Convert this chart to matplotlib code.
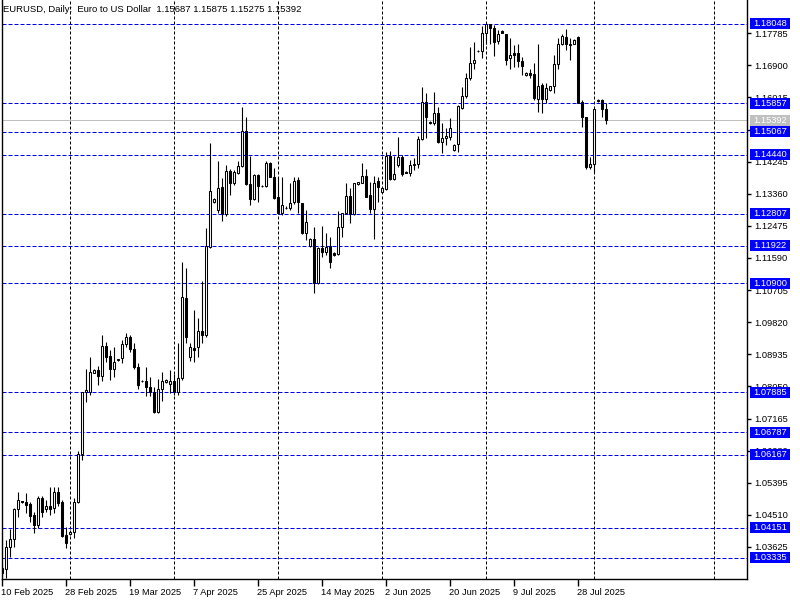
import numpy as np
import pandas as pd
import matplotlib
matplotlib.use("Agg")
import matplotlib.pyplot as plt
from matplotlib.patches import Rectangle
import matplotlib.transforms as mtrans

# ---------------- data ----------------
title_text = "EURUSD, Daily:  Euro to US Dollar  1.15687 1.15875 1.15275 1.15392"
first_date = "2025-02-10"
last_date = "2025-08-05"

opens = [
    1.03046, 1.03018, 1.03624, 1.03845, 1.04672, 1.04880, 1.04872, 1.04809,
    1.04506, 1.04230, 1.04966, 1.04663, 1.04754, 1.04691, 1.05131, 1.04872,
    1.03955, 1.03983, 1.04029, 1.04856, 1.06178, 1.07894, 1.07894, 1.08426,
    1.08501, 1.08344, 1.09162, 1.08886, 1.08520, 1.08776, 1.08823, 1.09209,
    1.09401, 1.09079, 1.08575, 1.08198, 1.08206, 1.08024, 1.07886, 1.07352,
    1.07969, 1.08162, 1.08115, 1.08206, 1.07903, 1.08272, 1.10484, 1.08867,
    1.09107, 1.09143, 1.09583, 1.09465, 1.11897, 1.13121, 1.12909, 1.13534,
    1.12790, 1.13983, 1.13644, 1.13936, 1.14121, 1.15085, 1.13625, 1.13203,
    1.13873, 1.13570, 1.13570, 1.14212, 1.13826, 1.13258, 1.12834, 1.12964,
    1.12972, 1.13137, 1.13735, 1.13093, 1.12267, 1.11925, 1.12101, 1.10889,
    1.11853, 1.11760, 1.11917, 1.11732, 1.11688, 1.12432, 1.12818, 1.13294,
    1.12790, 1.13617, 1.13661, 1.13846, 1.13322, 1.12928, 1.13716, 1.13413,
    1.13479, 1.14396, 1.13755, 1.14148, 1.14377, 1.13956, 1.13928, 1.14148,
    1.14176, 1.14856, 1.15876, 1.15333, 1.15297, 1.15589, 1.14782, 1.14892,
    1.14928, 1.14562, 1.14719, 1.15727, 1.16049, 1.16537, 1.16950, 1.17289,
    1.17297, 1.17777, 1.18033, 1.17942, 1.17573, 1.17848, 1.17757, 1.17088,
    1.17226, 1.17226, 1.17022, 1.16628, 1.16691, 1.16655, 1.15958, 1.16352,
    1.15958, 1.16215, 1.16325, 1.16931, 1.17474, 1.17683, 1.17474, 1.17501,
    1.17683, 1.15892, 1.15479, 1.14085, 1.14176, 1.15925, 1.15939, 1.15687,
]
highs = [
    1.03128, 1.03817, 1.04120, 1.04699, 1.05131, 1.04905, 1.05112, 1.04872,
    1.04597, 1.05038, 1.05038, 1.04919, 1.05285, 1.05285, 1.05285, 1.04919,
    1.04183, 1.04092, 1.04966, 1.06270, 1.07903, 1.08528, 1.08859, 1.08520,
    1.08611, 1.09465, 1.09280, 1.09052, 1.09126, 1.08817, 1.09327, 1.09528,
    1.09465, 1.09236, 1.08685, 1.08225, 1.08591, 1.08316, 1.08024, 1.08245,
    1.08437, 1.08253, 1.08501, 1.08382, 1.09245, 1.11484, 1.11302, 1.09236,
    1.10153, 1.09925, 1.10953, 1.12421, 1.14746, 1.13239, 1.14258, 1.13782,
    1.14148, 1.14038, 1.14011, 1.14258, 1.15754, 1.15479, 1.14396, 1.13901,
    1.13901, 1.13597, 1.14258, 1.14239, 1.14057, 1.13810, 1.13810, 1.13019,
    1.13644, 1.13810, 1.13810, 1.13101, 1.12909, 1.12129, 1.12448, 1.11897,
    1.12468, 1.12283, 1.12173, 1.11752, 1.12881, 1.12834, 1.13644, 1.13506,
    1.13644, 1.13680, 1.14195, 1.14030, 1.13688, 1.13846, 1.13810, 1.13514,
    1.14506, 1.14542, 1.14396, 1.14920, 1.14424, 1.13983, 1.14286, 1.14341,
    1.14947, 1.16289, 1.16140, 1.15360, 1.16168, 1.15754, 1.15306, 1.15168,
    1.15435, 1.14727, 1.15801, 1.16305, 1.16675, 1.17407, 1.17545, 1.17317,
    1.17990, 1.18048, 1.18030, 1.18010, 1.17868, 1.17868, 1.17757, 1.17639,
    1.17454, 1.17501, 1.17132, 1.16710, 1.16812, 1.16950, 1.17501, 1.16416,
    1.16407, 1.16325, 1.17179, 1.17639, 1.17757, 1.17887, 1.17639, 1.17620,
    1.17702, 1.15939, 1.15479, 1.14377, 1.15691, 1.15967, 1.15958, 1.15875,
]
lows = [
    1.02826, 1.02771, 1.03348, 1.03624, 1.04460, 1.04837, 1.04561, 1.04321,
    1.04002, 1.04139, 1.04460, 1.04597, 1.04506, 1.04553, 1.04763, 1.03900,
    1.03588, 1.03955, 1.03864, 1.04837, 1.06021, 1.07628, 1.07812, 1.08410,
    1.08088, 1.08206, 1.08729, 1.08225, 1.08316, 1.08762, 1.08685, 1.09143,
    1.09005, 1.08520, 1.07969, 1.08170, 1.07793, 1.07793, 1.07325, 1.07325,
    1.07647, 1.08143, 1.07859, 1.07812, 1.07812, 1.08225, 1.09236, 1.08757,
    1.08721, 1.08867, 1.09245, 1.09410, 1.11853, 1.13093, 1.12818, 1.12614,
    1.12743, 1.13322, 1.13597, 1.13901, 1.14101, 1.13597, 1.13046, 1.13184,
    1.13137, 1.13542, 1.13550, 1.13810, 1.13203, 1.12798, 1.12771, 1.12928,
    1.12909, 1.13074, 1.12834, 1.12247, 1.12082, 1.11897, 1.10630, 1.10862,
    1.11622, 1.11669, 1.11302, 1.11656, 1.11669, 1.12173, 1.12798, 1.12542,
    1.12771, 1.13597, 1.13644, 1.13258, 1.12834, 1.12101, 1.13137, 1.13391,
    1.13459, 1.13735, 1.13735, 1.14101, 1.13846, 1.13928, 1.13846, 1.14011,
    1.14066, 1.14837, 1.14884, 1.15278, 1.15250, 1.14746, 1.14479, 1.14699,
    1.14837, 1.14534, 1.14515, 1.15683, 1.15986, 1.16509, 1.16812, 1.17261,
    1.17088, 1.17501, 1.17501, 1.17151, 1.17501, 1.17777, 1.16903, 1.16812,
    1.16856, 1.16856, 1.16628, 1.16614, 1.16537, 1.15939, 1.15617, 1.15573,
    1.15856, 1.16187, 1.16140, 1.16812, 1.17454, 1.17317, 1.17041, 1.17496,
    1.15856, 1.15187, 1.14030, 1.14030, 1.13920, 1.15884, 1.15479, 1.15275,
]
closes = [
    1.02908, 1.03624, 1.03845, 1.04672, 1.04919, 1.04872, 1.04782, 1.04487,
    1.04230, 1.04966, 1.04597, 1.04754, 1.04663, 1.05131, 1.04845, 1.03936,
    1.03726, 1.04038, 1.04856, 1.06178, 1.07886, 1.07950, 1.08454, 1.08501,
    1.08344, 1.09162, 1.08867, 1.08520, 1.08713, 1.08795, 1.09209, 1.09401,
    1.09079, 1.08575, 1.08088, 1.08206, 1.08024, 1.07886, 1.07352, 1.07969,
    1.08198, 1.08225, 1.08206, 1.07903, 1.08272, 1.10520, 1.09418, 1.09143,
    1.09052, 1.09583, 1.09465, 1.11917, 1.13432, 1.13203, 1.13506, 1.12790,
    1.13983, 1.13644, 1.13964, 1.14121, 1.15085, 1.13617, 1.13203, 1.13873,
    1.13570, 1.13578, 1.14212, 1.13826, 1.13247, 1.12834, 1.13038, 1.12972,
    1.13093, 1.13708, 1.13137, 1.12267, 1.12570, 1.12101, 1.10889, 1.11853,
    1.11760, 1.11897, 1.11484, 1.11669, 1.12432, 1.12818, 1.13294, 1.12790,
    1.13644, 1.13672, 1.13846, 1.13275, 1.12928, 1.13661, 1.13550, 1.13506,
    1.14396, 1.13755, 1.13901, 1.14377, 1.13901, 1.13936, 1.14148, 1.14176,
    1.14856, 1.15876, 1.15479, 1.15297, 1.15589, 1.14790, 1.14892, 1.14947,
    1.15159, 1.14708, 1.15774, 1.16049, 1.16537, 1.16967, 1.17060, 1.17297,
    1.17777, 1.18033, 1.17942, 1.17545, 1.17757, 1.17777, 1.17060, 1.17179,
    1.17179, 1.17022, 1.16876, 1.16691, 1.16628, 1.15986, 1.16325, 1.15958,
    1.16270, 1.16325, 1.16931, 1.17474, 1.17702, 1.17474, 1.17460, 1.17611,
    1.15865, 1.15462, 1.14085, 1.14176, 1.15691, 1.15939, 1.15683, 1.15392,
]

line_levels = [1.18048, 1.15857, 1.15067, 1.14440, 1.12807, 1.11922, 1.10900,
               1.07885, 1.06787, 1.06167, 1.04151, 1.03335]
bid_price = 1.15392
price_ticks = [1.03625, 1.04510, 1.05395, 1.06280, 1.07165, 1.08050, 1.08935,
               1.09820, 1.10705, 1.11590, 1.12475, 1.13360, 1.14245, 1.15130,
               1.16015, 1.16900, 1.17785]
date_label_every = 16
y_range = (1.02743, 1.18700)

# ---------------- derived ----------------
o = np.array(opens); h = np.array(highs); l = np.array(lows); c = np.array(closes)
dates = [d for d in pd.date_range(first_date, last_date) if d.weekday() != 5]
n = len(o)
x = np.arange(n)

grid_x = []
prev_m = None
for i, d in enumerate(dates):
    if prev_m is not None and d.month != prev_m:
        grid_x.append(i)
    prev_m = d.month
future_month = pd.Timestamp("2025-09-01")
grid_x.append(n - 1 + (future_month - dates[-1]).days)

W, H = 800, 600
fig = plt.figure(figsize=(W / 100, H / 100), dpi=100)
ax_left, ax_right, ax_top, ax_bottom = 2, 747, 0, 579
ax = fig.add_axes([ax_left / W, 1 - ax_bottom / H,
                   (ax_right - ax_left) / W, (ax_bottom - ax_top) / H])

bar_px = 4.0
x0 = 2.3
ax.set_xlim((ax_left - x0) / bar_px, (ax_right - x0) / bar_px)
ax.set_ylim(*y_range)

font = "Liberation Sans"
fs = 6.7
onepx = 0.72  # 1 pixel in points at 100 dpi

# grid & lines
for gx in grid_x:
    ax.axvline(gx, color="black", lw=onepx, ls=(0, (3, 2)), zorder=1, snap=True)
for lv in line_levels:
    ax.axhline(lv, color="#0000FF", lw=onepx, ls=(0, (4, 2)), zorder=1.5, snap=True)
ax.axhline(bid_price, color="#C0C0C0", lw=onepx, zorder=1.2, snap=True)

# candles
up = c >= o
ax.vlines(x, l, h, color="black", lw=onepx * 1.1, zorder=3)
ax.bar(x, np.abs(c - o), bottom=np.minimum(o, c), width=0.5,
       color=np.where(up, "white", "black"), edgecolor="black",
       linewidth=onepx * 1.05, zorder=4)

ax.spines["top"].set_visible(False)
for s in ["left", "right", "bottom"]:
    ax.spines[s].set_linewidth(1)

# y axis on the right
ax.yaxis.tick_right()
ax.set_yticks(price_ticks)
ax.set_yticklabels([f"{t:.5f}" for t in price_ticks], fontsize=fs, family=font)
ax.tick_params(axis="y", which="both", direction="out", length=3, width=1, pad=2)
ax.tick_params(axis="y", left=False)

# x axis
xt = list(range(0, n, date_label_every))
ax.set_xticks(xt)
ax.set_xticklabels([f"{dates[i].day} {dates[i].strftime('%b %Y')}" for i in xt],
                   fontsize=fs, family=font)
ax.tick_params(axis="x", direction="out", length=5, width=1, pad=1.5)
offset = mtrans.ScaledTranslation(-1 / 100, 0, fig.dpi_scale_trans)
for lbl in ax.get_xticklabels():
    lbl.set_horizontalalignment("left")
    lbl.set_transform(lbl.get_transform() + offset)

# price label boxes
blend = mtrans.blended_transform_factory(fig.transFigure, ax.transData)
px_per_unit = (ax_bottom - ax_top) / (y_range[1] - y_range[0])
box_h = 11 / px_per_unit
box_x0, box_x1 = 749.5 / W, 789.5 / W


def price_box(p, fc, tc):
    ax.add_patch(Rectangle((box_x0, p - box_h / 2), box_x1 - box_x0, box_h,
                           transform=blend, facecolor=fc, edgecolor="none",
                           clip_on=False, zorder=10))
    ax.text(753 / W, p, f"{p:.5f}", transform=blend, color=tc, fontsize=fs,
            family=font, va="center", ha="left", clip_on=False, zorder=11)


for lv in line_levels:
    price_box(lv, "#0000FF", "white")
price_box(bid_price, "#C0C0C0", "white")

fig.text(3 / W, 1 - 9 / H, title_text, fontsize=fs + 0.1, family=font,
         va="center", ha="left")

fig.savefig("out.png", dpi=100, facecolor="white")
